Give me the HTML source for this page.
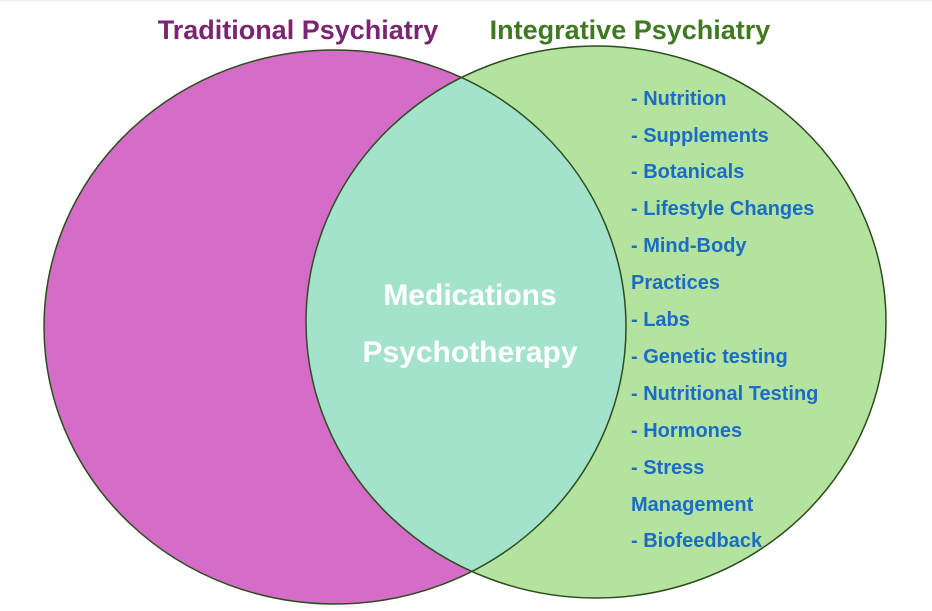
<!DOCTYPE html>
<html><head><meta charset="utf-8"><style>
html,body{margin:0;padding:0;background:#fff;}
svg{display:block;}
text{font-family:"Liberation Sans",sans-serif;font-weight:bold;}
</style></head><body>
<svg width="932" height="611" viewBox="0 0 932 611" xmlns="http://www.w3.org/2000/svg">
<defs>
<clipPath id="lc"><ellipse cx="335" cy="327" rx="291" ry="277"/></clipPath>
</defs>
<rect x="0" y="0" width="932" height="611" fill="#fff"/>
<line x1="0" y1="1" x2="932" y2="1" stroke="#e6e6e6"/>
<ellipse cx="335" cy="327" rx="291" ry="277" fill="#d46cc8"/>
<ellipse cx="596" cy="322" rx="290" ry="276" fill="#b4e3a0"/>
<ellipse cx="596" cy="322" rx="290" ry="276" fill="#a3e3cb" clip-path="url(#lc)"/>
<ellipse cx="335" cy="327" rx="291" ry="277" fill="none" stroke="#2d4d1e" stroke-width="1.5"/>
<ellipse cx="596" cy="322" rx="290" ry="276" fill="none" stroke="#2d4d1e" stroke-width="1.5"/>
<text x="298" y="39" font-size="27" fill="#7a2571" text-anchor="middle">Traditional Psychiatry</text>
<text x="630" y="39" font-size="27" fill="#3f7a20" text-anchor="middle">Integrative Psychiatry</text>
<text x="470" y="305" font-size="30" fill="#ffffff" text-anchor="middle">Medications</text>
<text x="470" y="362" font-size="30" fill="#ffffff" text-anchor="middle">Psychotherapy</text>
<g font-size="20" fill="#1a6cc4">
<text x="631" y="105">- Nutrition</text>
<text x="631" y="142">- Supplements</text>
<text x="631" y="178">- Botanicals</text>
<text x="631" y="215">- Lifestyle Changes</text>
<text x="631" y="252">- Mind-Body</text>
<text x="631" y="289">Practices</text>
<text x="631" y="326">- Labs</text>
<text x="631" y="363">- Genetic testing</text>
<text x="631" y="400">- Nutritional Testing</text>
<text x="631" y="437">- Hormones</text>
<text x="631" y="474">- Stress</text>
<text x="631" y="511">Management</text>
<text x="631" y="547">- Biofeedback</text>
</g>
</svg>
</body></html>
